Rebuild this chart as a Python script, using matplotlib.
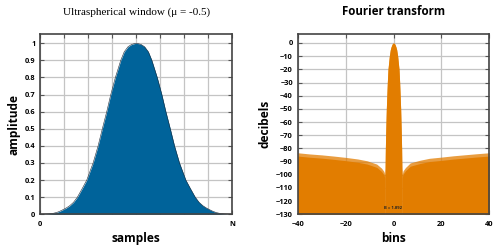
import matplotlib
matplotlib.use("Agg")
import matplotlib.pyplot as plt
import numpy as np

# window shape (position as fraction of N, amplitude)
win_pos = [0, 0.02, 0.04, 0.06, 0.083, 0.1, 0.12, 0.135, 0.153, 0.173, 0.193,
           0.218, 0.242, 0.275, 0.301, 0.323, 0.346, 0.367, 0.391, 0.419,
           0.437, 0.457, 0.475, 0.49, 0.5,
           0.51, 0.525, 0.543, 0.563, 0.581, 0.609, 0.633, 0.654, 0.677,
           0.699, 0.725, 0.758, 0.782, 0.807, 0.827, 0.847, 0.865, 0.88,
           0.9, 0.917, 0.94, 0.96, 0.98, 1.0]
win_amp = [0, 0.0005, 0.002, 0.004, 0.01, 0.017, 0.028, 0.037, 0.05, 0.07, 0.1,
           0.15, 0.2, 0.3, 0.4, 0.5, 0.6, 0.7, 0.8, 0.9,
           0.95, 0.98, 0.993, 0.998, 1.0,
           0.998, 0.993, 0.98, 0.95, 0.9, 0.8, 0.7, 0.6, 0.5,
           0.4, 0.3, 0.2, 0.15, 0.1, 0.07, 0.05, 0.037, 0.028,
           0.017, 0.01, 0.004, 0.002, 0.0005, 0]

# spectrum: sidelobe envelope and main lobe (bins, dB)
side_left_bins = [-40, -35, -30, -25, -20, -15, -11, -7, -5, -4, -3.6]
side_left_db = [-83.3, -84.2, -84.9, -85.8, -86.8, -88.0, -89.4, -91.9, -95.0, -97.5, -100.0]
main_bins = [-3.6, -3.5, -3.4, -3.27, -3.13, -2.99, -2.78, -2.57, -2.3, -1.74, -1.32,
             -1.0, -0.6, -0.3, 0, 0.3, 0.6, 1.0, 1.32, 1.74, 2.3, 2.57, 2.78,
             2.99, 3.13, 3.27, 3.4, 3.5, 3.6]
main_db = [-100, -95, -81, -70, -60, -50, -40, -30, -20, -10, -5,
           -2.9, -1.0, -0.25, 0, -0.25, -1.0, -2.9, -5, -10, -20, -30, -40,
           -50, -60, -70, -81, -95, -100]
side_right_bins = [3.6, 4, 5, 7, 11, 15, 20, 25, 30, 35, 40]
side_right_db = [-100.0, -97.0, -94.5, -91.0, -89.0, -87.5, -86.6, -85.6, -84.8, -84.0, -83.3]

win_ticks = [0, 0.125, 0.25, 0.375, 0.5, 0.625, 0.75, 0.875, 1.0]
win_ticklabels = ['0', '', '', '', '', '', '', '', 'N']
amp_ticks = [0, 0.1, 0.2, 0.3, 0.4, 0.5, 0.6, 0.7, 0.8, 0.9, 1]
amp_ticklabels = ['0', '0.1', '0.2', '0.3', '0.4', '0.5', '0.6', '0.7', '0.8', '0.9', '1']
bin_ticks = [-40, -20, 0, 20, 40]
db_ticks = list(range(0, -131, -10))

blue = '#00639a'
orange = '#e27d00'
grid_c = '#c4c4c4'
frame_c = '#444444'

plt.rcParams['font.family'] = ['Open Sans', 'DejaVu Sans']

fig = plt.figure(figsize=(5, 2.5), dpi=100)
ax1 = fig.add_axes([0.0806, 0.1428, 0.384, 0.72])
ax2 = fig.add_axes([0.5954, 0.1428, 0.3832, 0.72])


def style(ax):
    for s in ax.spines.values():
        s.set_color(frame_c)
        s.set_linewidth(1.2)
        s.set_zorder(5)
    ax.tick_params(direction='in', length=3, width=0.8, color='#555555',
                   top=True, right=True, labelsize=5.3, pad=3.5)
    for lab in ax.get_xticklabels() + ax.get_yticklabels():
        lab.set_fontweight('bold')
    ax.grid(True, color=grid_c, linewidth=0.9)
    ax.set_axisbelow(True)


# window
ax1.fill_between(win_pos, win_amp, 0, color=blue, linewidth=0, zorder=2)
ax1.plot(win_pos, win_amp, color='#1a2a3a', linewidth=0.4, zorder=3)
ax1.set_xlim(0, 1)
ax1.set_ylim(0, 1.0526)
ax1.set_xticks(win_ticks)
ax1.set_xticklabels(win_ticklabels)
ax1.set_yticks(amp_ticks)
ax1.set_yticklabels(amp_ticklabels)
style(ax1)
ax1.tick_params(axis='x', pad=5)
ax1.set_title('Ultraspherical window (μ = -0.5)', family='Liberation Serif',
              fontsize=8, pad=14)
ax1.set_xlabel('samples', fontsize=8.6, fontweight='bold', labelpad=3)
ax1.set_ylabel('amplitude', fontsize=8.6, fontweight='bold', labelpad=3)

# Fourier transform: faint fringe at the sidelobe tips, solid below
spec_bins = side_left_bins + main_bins + side_right_bins
spec_db = side_left_db + main_db + side_right_db
ax2.fill_between(spec_bins, spec_db, -130, color=orange, alpha=0.75,
                 linewidth=0, zorder=2)
fringe = 2.5
ax2.fill_between(side_left_bins, np.array(side_left_db) - fringe, -130,
                 color=orange, linewidth=0, zorder=2)
ax2.fill_between(side_right_bins, np.array(side_right_db) - fringe, -130,
                 color=orange, linewidth=0, zorder=2)
ax2.fill_between(main_bins, main_db, -130, color=orange, linewidth=0, zorder=2)
ax2.set_xlim(-40, 40)
ax2.set_ylim(-130, 6.6)
ax2.set_xticks(bin_ticks)
ax2.set_yticks(db_ticks)
style(ax2)
ax2.tick_params(axis='x', pad=5)
ax2.set_title('Fourier transform', fontsize=8.3, fontweight='bold', pad=14)
ax2.set_xlabel('bins', fontsize=8.6, fontweight='bold', labelpad=3)
ax2.set_ylabel('decibels', fontsize=8.6, fontweight='bold', labelpad=3)
ax2.text(0, -127, 'B = 1.892', fontsize=3, fontweight='bold', ha='center',
         va='bottom', color='#222222', zorder=4)

fig.savefig('out.png', dpi=100)
